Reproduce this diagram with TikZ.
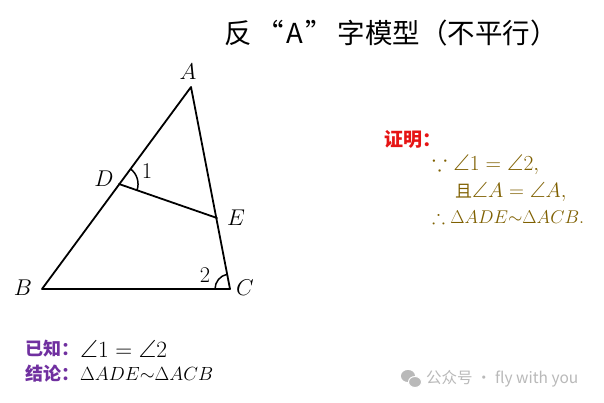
\documentclass[tikz,border=0pt]{standalone}
\usetikzlibrary{calc}
\usepackage{amssymb}
\usepackage[no-math]{fontspec}
\setmainfont{Liberation Serif}
\newfontfamily\cjk{Noto Sans CJK SC}
\newfontfamily\wmfont{Noto Sans CJK SC}
\definecolor{proofc}{RGB}{127,96,0}
\definecolor{redc}{RGB}{230,20,20}
\definecolor{purc}{RGB}{112,48,160}
\definecolor{wmc}{RGB}{185,185,185}
\tikzset{
  seg/.style={line width=1.8pt,line cap=round,line join=round},
  anglearc/.style={line width=1.5pt},
  ptlabel/.style={font=\fontsize{20}{20}\selectfont,inner sep=0pt},
  numlabel/.style={font=\fontsize{18}{18}\selectfont,inner sep=0pt},
  prooftxt/.style={font=\fontsize{22}{22}\selectfont,text=proofc,inner sep=0pt,anchor=west},
  bottomtxt/.style={font=\fontsize{22}{22}\selectfont,inner sep=0pt,anchor=west},
  cjklabel/.style={font=\cjk\bfseries\fontsize{18}{18}\selectfont,inner sep=0pt,anchor=west}
}
\begin{document}
\begin{tikzpicture}[x=1pt,y=-1pt]
\useasboundingbox[fill=white] (0,0) rectangle (604,403);
% title
\node[inner sep=0pt,font=\cjk\fontsize{27.5}{27.5}\selectfont] (title) at (391,33) {反\hspace{5pt}“\hspace{2pt}A\hspace{2pt}”\hspace{5pt}字模型（不平行）};
% points
\coordinate (A) at (191,87);
\coordinate (B) at (42,289);
\coordinate (C) at (230,289);
\coordinate (D) at (119,184);
\coordinate (E) at (217,218);
\draw[seg] (A) -- (B) -- (C) -- cycle;
\draw[seg] (D) -- (E);
% angle arcs
\draw[anglearc] ($(D)!19pt!(A)$) arc[start angle=53.6,end angle=-19.3,radius=19pt];
\draw[anglearc] ($(C)!15pt!(B)$) arc[start angle=180,end angle=101,radius=15pt];
% labels
\node[ptlabel] (lA) at (188,72) {\scalebox{1.1}{$A$}};
\node[ptlabel] (lD) at (104,179) {\scalebox{1.1}{$D$}};
\node[numlabel] (l1) at (147,171) {\scalebox{1.3}{$1$}};
\node[ptlabel] (lE) at (236,218) {\scalebox{1.1}{$E$}};
\node[ptlabel] (lB) at (23,288) {\scalebox{1.1}{$B$}};
\node[numlabel] (l2) at (205,275) {\scalebox{1.3}{$2$}};
\node[ptlabel] (lC) at (245,288) {\scalebox{1.1}{$C$}};
% proof
\node[cjklabel,text=redc,font=\cjk\bfseries\fontsize{19}{19}\selectfont] (pf) at (384,139) {证明：};
\node[prooftxt] (p1) at (432,165) {\resizebox{107pt}{!}{$\because\angle 1=\angle 2,$}};
\node[prooftxt] (p2) at (455,192) {{\cjk\fontsize{17}{17}\selectfont 且}$\angle A=\angle A,$};
\node[prooftxt] (p3) at (432,217) {\resizebox{152pt}{!}{$\therefore\Delta ADE{\sim}\Delta ACB.$}};
% given / conclusion
\node[cjklabel,text=purc] (g1) at (25,349) {已知：};
\node[bottomtxt] (g2) at (80,349) {\resizebox{87pt}{!}{$\angle 1=\angle 2$}};
\node[cjklabel,text=purc] (c1) at (25,374) {结论：};
\node[bottomtxt] (c2) at (80,374) {\resizebox{133pt}{!}{$\Delta ADE{\sim}\Delta ACB$}};
% watermark
\fill[wmc] (408,376) ellipse[x radius=7pt,y radius=6pt];
\fill[wmc,draw=white,line width=1pt] (415,382) ellipse[x radius=6.5pt,y radius=5.5pt];
\node[inner sep=0pt,anchor=west,text=wmc,font=\wmfont\fontsize{15.5}{15.5}\selectfont] (wm) at (426,379) {公众号 · fly with you};
\end{tikzpicture}
\end{document}
